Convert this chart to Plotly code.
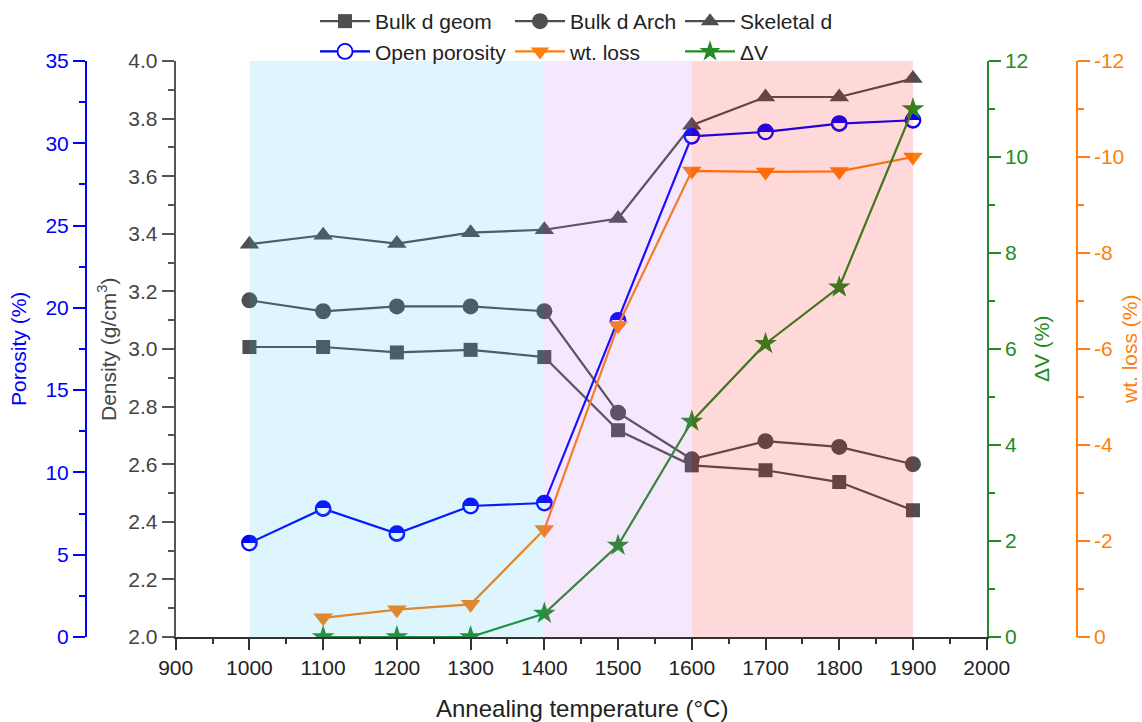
import plotly.graph_objects as go

# ---------------- data ----------------
temps = [1000, 1100, 1200, 1300, 1400, 1500, 1600, 1700, 1800, 1900]
bulk_geom = [3.007, 3.007, 2.988, 2.997, 2.972, 2.718, 2.596, 2.579, 2.538, 2.440]
bulk_arch = [3.169, 3.131, 3.148, 3.148, 3.131, 2.779, 2.617, 2.680, 2.660, 2.600]
skeletal = [3.364, 3.395, 3.366, 3.404, 3.414, 3.453, 3.777, 3.875, 3.875, 3.939]
open_porosity = [5.71, 7.80, 6.28, 7.96, 8.14, 19.24, 30.42, 30.69, 31.20, 31.40]

temps_b = [1100, 1200, 1300, 1400, 1500, 1600, 1700, 1800, 1900]
wt_loss = [-0.40, -0.57, -0.68, -2.24, -6.49, -9.71, -9.69, -9.70, -10.00]
delta_v = [0.0, 0.0, 0.0, 0.49, 1.91, 4.49, 6.11, 7.29, 11.00]

region_starts = [1000, 1400, 1600]
region_ends = [1400, 1600, 1900]
region_colors = ["rgba(35,188,242,0.15)", "rgba(188,102,242,0.15)", "rgba(255,2,2,0.15)"]

wt_tickvals = [0, -2, -4, -6, -8, -10, -12]
wt_ticktext = ["0", "-2", "-4", "-6", "-8", "-10", "-12"]

# ---------------- style ----------------
FONT = "Liberation Sans, Arial, sans-serif"
GRAY = "#4f4f4f"
BLUE = "#0000FF"
ORANGE = "#FF7F0E"
GREEN = "#228B22"
AXGRAY = "#555555"

W, H = 1142, 722
ML, MR, MT, MB = 20, 20, 61, 85
PW = W - ML - MR
PH = H - MT - MB


def px_x(p):
    return (p - ML) / PW


def px_y(p):
    return (H - MB - p) / PH


fig = go.Figure()

fig.add_trace(go.Scatter(
    x=temps, y=bulk_geom, name="Bulk d geom", mode="lines+markers",
    line=dict(color=GRAY, width=2.2),
    marker=dict(symbol="square", size=14, color=GRAY),
    yaxis="y", legend="legend"))
fig.add_trace(go.Scatter(
    x=temps, y=bulk_arch, name="Bulk d Arch", mode="lines+markers",
    line=dict(color=GRAY, width=2.2),
    marker=dict(symbol="circle", size=16, color=GRAY),
    yaxis="y", legend="legend2"))
fig.add_trace(go.Scatter(
    x=temps, y=skeletal, name="Skeletal d", mode="lines+markers",
    line=dict(color=GRAY, width=2.2),
    marker=dict(symbol="triangle-up", size=17, color=GRAY),
    yaxis="y", legend="legend3"))

fig.add_trace(go.Scatter(
    x=temps, y=open_porosity, name="Open porosity", mode="lines+markers",
    line=dict(color=BLUE, width=2.2),
    marker=dict(symbol="circle", size=15, color="white",
                line=dict(color=BLUE, width=1.8)),
    yaxis="y2", legend="legend"))
fig.add_trace(go.Scatter(
    x=temps, y=open_porosity, mode="text", text=["◓"] * len(temps),
    textposition="middle center",
    textfont=dict(family="DejaVu Sans", size=19, color=BLUE),
    showlegend=False, hoverinfo="skip", yaxis="y2"))

fig.add_trace(go.Scatter(
    x=temps_b, y=wt_loss, name="wt. loss", mode="lines+markers",
    line=dict(color=ORANGE, width=2.2),
    marker=dict(symbol="triangle-down", size=17, color=ORANGE),
    yaxis="y3", legend="legend2"))
fig.add_trace(go.Scatter(
    x=temps_b, y=delta_v, name="ΔV", mode="lines+markers",
    line=dict(color=GREEN, width=2.2),
    marker=dict(symbol="star", size=17, color=GREEN),
    yaxis="y4", legend="legend3"))

for s, e, c in zip(region_starts, region_ends, region_colors):
    fig.add_shape(type="rect", xref="x", yref="y domain", x0=s, x1=e, y0=0, y1=1,
                  fillcolor=c, line=dict(width=0), layer="above")

TS = 21


def yax(color, labcolor, rng, dtick, minor_dtick, **kw):
    d = dict(range=rng, dtick=dtick, showgrid=False, zeroline=False,
             showline=True, linecolor=color, linewidth=2,
             ticks="outside", ticklen=12, tickwidth=2, tickcolor=color,
             tickfont=dict(family=FONT, size=TS, color=labcolor),
             automargin=False,
             minor=dict(ticks="outside", ticklen=6, tickwidth=2, tickcolor=color, dtick=minor_dtick))
    d.update(kw)
    return d


fig.update_layout(
    width=W, height=H,
    margin=dict(l=ML, r=MR, t=MT, b=MB, autoexpand=False),
    plot_bgcolor="white", paper_bgcolor="white",
    font=dict(family=FONT, size=TS, color="#222222"),
    xaxis=dict(domain=[px_x(175.7), px_x(986.7)], range=[900, 2000], dtick=100,
               showgrid=False, zeroline=False, showline=True, linecolor="#333333", linewidth=2,
               ticks="outside", ticklen=11, tickwidth=2, tickcolor="#333333", automargin=False,
               tickfont=dict(family=FONT, size=TS, color="#222222"),
               minor=dict(ticks="outside", ticklen=5, tickwidth=2, tickcolor="#333333", dtick=50)),
    yaxis=yax(AXGRAY, "#444444", [2.0, 4.0], 0.2, 0.1, tickformat=".1f", anchor="x", side="left"),
    yaxis2=yax(BLUE, BLUE, [0, 35], 5, 2.5, overlaying="y", anchor="free",
               position=px_x(86), side="left"),
    yaxis3=yax(ORANGE, ORANGE, [0, -12], None, 1, overlaying="y", anchor="free",
               position=px_x(1076.7), side="right", tickmode="array",
               tickvals=wt_tickvals, ticktext=wt_ticktext),
    yaxis4=yax(GREEN, GREEN, [0, 12], 2, 1, overlaying="y", anchor="x", side="right"),
    showlegend=True,
)

leg_common = dict(orientation="v", xanchor="left", yanchor="top", bgcolor="rgba(0,0,0,0)",
                  itemwidth=50,
                  font=dict(family=FONT, size=21, color="#222222"), tracegroupgap=0)
fig.update_layout(
    legend=dict(x=px_x(315), y=px_y(1), **leg_common),
    legend2=dict(x=px_x(510), y=px_y(1), **leg_common),
    legend3=dict(x=px_x(680), y=px_y(1), **leg_common),
)

ann_font = dict(family=FONT, size=21)
common_ann = dict(xref="paper", yref="paper", showarrow=False, xanchor="center", yanchor="middle")
fig.add_annotation(text="Porosity (%)", x=px_x(18), y=0.5, textangle=-90,
                   font=dict(ann_font, color=BLUE), **common_ann)
fig.add_annotation(text="Density (g/cm<sup>3</sup>)", x=px_x(107), y=0.5, textangle=-90,
                   font=dict(ann_font, color="#444444"), **common_ann)
fig.add_annotation(text="ΔV (%)", x=px_x(1041), y=0.5, textangle=-90,
                   font=dict(ann_font, color=GREEN), **common_ann)
fig.add_annotation(text="wt. loss (%)", x=px_x(1129), y=0.5, textangle=-90,
                   font=dict(ann_font, color=ORANGE), **common_ann)
fig.add_annotation(text="Annealing temperature (°C)", x=px_x(582), y=px_y(708),
                   font=dict(family=FONT, size=24, color="#222222"), **common_ann)

fig.write_html("out.html")
